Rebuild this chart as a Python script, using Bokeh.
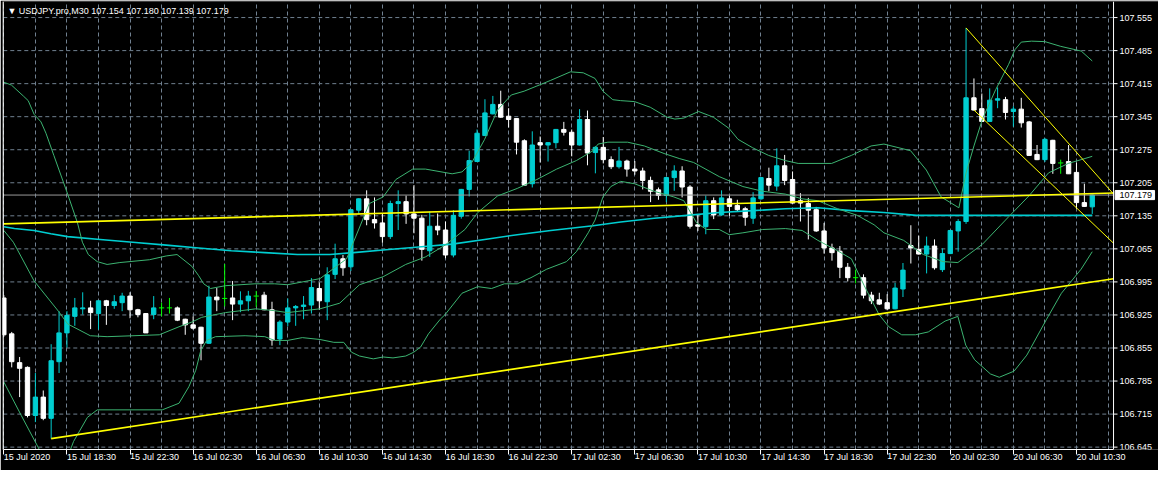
from bokeh.plotting import figure
from bokeh.models import Range1d, FixedTicker, Label, ColumnDataSource
from bokeh.core.properties import value
from bokeh.embed import file_html
from bokeh.resources import INLINE

# ---------------- data ----------------
symbol_title = "\u25bc USDJPY.pro,M30  107.154 107.180 107.139 107.179"

time_tick_bars = [0, 8, 16, 24, 32, 40, 48, 56, 64, 72, 80, 88, 96, 104, 112, 120, 128, 136]
time_tick_labels = ["15 Jul 2020", "15 Jul 18:30", "15 Jul 22:30", "16 Jul 02:30", "16 Jul 06:30",
                    "16 Jul 10:30", "16 Jul 14:30", "16 Jul 18:30", "16 Jul 22:30", "17 Jul 02:30",
                    "17 Jul 06:30", "17 Jul 10:30", "17 Jul 14:30", "17 Jul 18:30", "17 Jul 22:30",
                    "20 Jul 02:30", "20 Jul 06:30", "20 Jul 10:30"]
price_ticks = [106.645, 106.715, 106.785, 106.855, 106.925, 106.995, 107.065,
               107.135, 107.205, 107.275, 107.345, 107.415, 107.485, 107.555]
price_tick_labels = ["106.645", "106.715", "106.785", "106.855", "106.925", "106.995", "107.065",
                     "107.135", "107.205", "107.275", "107.345", "107.415", "107.485", "107.555"]
last_price_label = "107.179"

open_ = [106.961, 106.885, 106.824, 106.814, 106.712, 106.751, 106.706, 106.826, 106.887, 106.922,
         106.938, 106.940, 106.928, 106.955, 106.945, 106.951, 106.965, 106.936, 106.928, 106.926,
         106.940, 106.940, 106.940, 106.916, 106.904, 106.899, 106.865, 106.963, 106.960, 106.961,
         106.948, 106.955, 106.965, 106.967, 106.936, 106.874, 106.910, 106.940, 106.943, 106.946,
         106.981, 106.953, 107.011, 107.044, 107.027, 107.147, 107.171, 107.127, 107.120, 107.091,
         107.161, 107.165, 107.139, 107.130, 107.061, 107.113, 107.105, 107.052, 107.134, 107.191,
         107.250, 107.305, 107.351, 107.371, 107.346, 107.341, 107.294, 107.203, 107.290, 107.285,
         107.290, 107.318, 107.312, 107.285, 107.339, 107.269, 107.280, 107.254, 107.239, 107.251,
         107.234, 107.230, 107.210, 107.190, 107.178, 107.216, 107.230, 107.196, 107.116, 107.112,
         107.167, 107.137, 107.171, 107.157, 107.150, 107.130, 107.171, 107.214, 107.198, 107.241,
         107.212, 107.167, 107.161, 107.148, 107.103, 107.067, 107.060, 107.026, 107.004, 107.004,
         106.967, 106.957, 106.951, 106.938, 106.980, 107.072, 107.064, 107.054, 107.071, 107.021,
         107.055, 107.103, 107.123, 107.385, 107.362, 107.335, 107.380, 107.381, 107.356, 107.361,
         107.334, 107.265, 107.254, 107.295, 107.247, 107.250, 107.227, 107.163, 107.154]
high = [106.967, 106.889, 106.836, 106.816, 106.802, 106.765, 106.863, 106.933, 106.933, 106.961,
        106.973, 106.955, 106.956, 106.957, 106.967, 106.972, 106.973, 106.938, 106.929, 106.965,
        106.951, 106.961, 106.943, 106.917, 106.922, 106.900, 106.987, 106.982, 107.033, 106.997,
        106.975, 106.976, 106.976, 106.974, 106.953, 106.914, 106.960, 106.946, 106.965, 107.003,
        106.994, 107.026, 107.076, 107.052, 107.149, 107.172, 107.189, 107.174, 107.140, 107.167,
        107.189, 107.178, 107.200, 107.137, 107.144, 107.140, 107.123, 107.147, 107.192, 107.273,
        107.318, 107.382, 107.389, 107.400, 107.363, 107.342, 107.297, 107.314, 107.303, 107.291,
        107.319, 107.334, 107.318, 107.361, 107.358, 107.283, 107.302, 107.261, 107.281, 107.254,
        107.251, 107.237, 107.218, 107.195, 107.218, 107.242, 107.240, 107.200, 107.139, 107.178,
        107.174, 107.189, 107.178, 107.169, 107.154, 107.185, 107.217, 107.237, 107.278, 107.264,
        107.229, 107.183, 107.173, 107.154, 107.120, 107.076, 107.071, 107.035, 107.021, 107.011,
        106.974, 106.972, 106.969, 106.993, 107.035, 107.115, 107.093, 107.091, 107.085, 107.066,
        107.105, 107.128, 107.533, 107.426, 107.394, 107.405, 107.407, 107.387, 107.367, 107.385,
        107.336, 107.285, 107.300, 107.296, 107.254, 107.285, 107.248, 107.203, 107.180]
low = [106.879, 106.814, 106.751, 106.708, 106.698, 106.702, 106.663, 106.802, 106.856, 106.902,
       106.926, 106.895, 106.894, 106.904, 106.938, 106.933, 106.918, 106.920, 106.887, 106.916,
       106.922, 106.928, 106.912, 106.883, 106.894, 106.829, 106.864, 106.933, 106.943, 106.914,
       106.931, 106.933, 106.942, 106.935, 106.860, 106.861, 106.901, 106.902, 106.916, 106.928,
       106.936, 106.914, 107.001, 107.008, 107.018, 107.139, 107.115, 107.108, 107.078, 107.086,
       107.105, 107.118, 107.098, 107.040, 107.048, 107.094, 107.045, 107.047, 107.129, 107.176,
       107.249, 107.304, 107.350, 107.343, 107.322, 107.265, 107.199, 107.195, 107.248, 107.250,
       107.278, 107.305, 107.261, 107.284, 107.242, 107.225, 107.246, 107.234, 107.235, 107.218,
       107.222, 107.191, 107.164, 107.169, 107.164, 107.188, 107.174, 107.108, 107.103, 107.096,
       107.128, 107.135, 107.135, 107.144, 107.114, 107.118, 107.169, 107.187, 107.188, 107.200,
       107.161, 107.123, 107.085, 107.101, 107.055, 107.040, 107.003, 106.996, 106.992, 106.960,
       106.948, 106.946, 106.935, 106.937, 106.963, 107.034, 107.053, 107.013, 107.021, 107.016,
       107.054, 107.059, 107.118, 107.358, 107.334, 107.334, 107.363, 107.339, 107.324, 107.322,
       107.262, 107.253, 107.249, 107.224, 107.224, 107.224, 107.150, 107.154, 107.139]
close = [106.883, 106.826, 106.812, 106.712, 106.751, 106.706, 106.828, 106.887, 106.924, 106.940,
         106.940, 106.930, 106.955, 106.945, 106.953, 106.965, 106.936, 106.926, 106.887, 106.940,
         106.940, 106.940, 106.914, 106.904, 106.897, 106.865, 106.963, 106.957, 106.960, 106.948,
         106.955, 106.965, 106.965, 106.936, 106.872, 106.910, 106.940, 106.943, 106.946, 106.983,
         106.955, 107.010, 107.044, 107.025, 107.148, 107.171, 107.127, 107.120, 107.091, 107.161,
         107.165, 107.139, 107.130, 107.064, 107.113, 107.105, 107.052, 107.136, 107.191, 107.252,
         107.310, 107.353, 107.371, 107.344, 107.339, 107.291, 107.200, 107.285, 107.285, 107.290,
         107.318, 107.312, 107.285, 107.339, 107.268, 107.280, 107.254, 107.239, 107.251, 107.234,
         107.230, 107.210, 107.187, 107.178, 107.216, 107.230, 107.196, 107.113, 107.113, 107.167,
         107.137, 107.173, 107.155, 107.148, 107.132, 107.173, 107.216, 107.200, 107.241, 107.210,
         107.162, 107.162, 107.147, 107.103, 107.067, 107.057, 107.026, 107.004, 107.004, 106.967,
         106.955, 106.948, 106.938, 106.982, 107.020, 107.067, 107.054, 107.071, 107.025, 107.055,
         107.104, 107.123, 107.385, 107.359, 107.335, 107.380, 107.383, 107.354, 107.361, 107.332,
         107.263, 107.254, 107.297, 107.246, 107.247, 107.224, 107.163, 107.155, 107.179]

# Bollinger bands: bar position, price
bb_upper_x = [0, 0.96, 2.46, 3.09, 3.84, 4.71, 5.34, 6.34, 8.09, 9.34, 9.96, 10.71, 11.84, 13.09, 14.71,
              18.46, 20.59, 21.96, 23.84, 24.71, 25.34, 26.21, 28.09, 31.84, 34.34, 35.96, 40.09, 43.46,
              46.34, 48.09, 49.71, 51.84, 53.46, 56.84, 58.09, 59.34, 60.96, 62.59, 64.34, 65.96, 67.59,
              69.34, 71.84, 73.46, 74.96, 75.96, 77.21, 78.21, 79.96, 81.96, 84.09, 85.09, 86.21, 88.09,
              89.96, 91.96, 93.09, 94.96, 96.96, 99.09, 100.71, 104.96, 107.46, 109.96, 111.59, 114.96,
              116.96, 118.84, 121.09, 122, 123, 124.1, 125.75, 127.4, 128.2, 129, 130.3, 132, 134,
              136.6, 138]
bb_upper_y = [107.418, 107.412, 107.389, 107.379, 107.350, 107.334, 107.310, 107.263, 107.181, 107.120,
              107.079, 107.053, 107.038, 107.032, 107.036, 107.042, 107.050, 107.053, 107.028, 107.008,
              106.991, 106.981, 106.987, 106.991, 106.991, 106.989, 107.002, 107.044, 107.161, 107.175,
              107.212, 107.234, 107.234, 107.224, 107.228, 107.248, 107.297, 107.359, 107.391, 107.399,
              107.410, 107.422, 107.440, 107.438, 107.426, 107.399, 107.381, 107.379, 107.377, 107.365,
              107.344, 107.340, 107.342, 107.356, 107.344, 107.320, 107.297, 107.279, 107.263, 107.252,
              107.246, 107.246, 107.263, 107.283, 107.287, 107.273, 107.232, 107.175, 107.152, 107.226,
              107.283, 107.341, 107.402, 107.456, 107.487, 107.503, 107.505, 107.504, 107.494, 107.484,
              107.463]
bb_mid_x = [0, 1.21, 2.21, 3.84, 6.96, 8.09, 10.96, 13.09, 19.71, 22.21, 23.84, 25.09, 28.09, 31.96,
            34.34, 35.96, 40.09, 42.59, 45.09, 48.09, 50.96, 53.46, 55.96, 58.46, 60.09, 62.59, 65.09,
            67.59, 70.09, 72.59, 74.71, 75.34, 76.59, 79.09, 81.21, 83.71, 85.71, 87.46, 90.71, 93.71,
            96.21, 99.09, 101.21, 103.21, 105.71, 108.21, 110.34, 111.59, 114.09, 116.59, 119.09,
            120.96, 124.09, 127.46, 129.96, 132.46, 134.96, 136.59, 138]
bb_mid_y = [107.104, 107.079, 107.048, 106.997, 106.932, 106.906, 106.881, 106.879, 106.883, 106.900,
            106.910, 106.920, 106.930, 106.938, 106.934, 106.930, 106.938, 106.950, 106.989, 107.006,
            107.032, 107.048, 107.073, 107.106, 107.142, 107.177, 107.193, 107.212, 107.234, 107.252,
            107.273, 107.287, 107.291, 107.291, 107.283, 107.267, 107.256, 107.248, 107.218, 107.197,
            107.187, 107.181, 107.171, 107.167, 107.150, 107.136, 107.116, 107.099, 107.083, 107.053,
            107.038, 107.036, 107.075, 107.134, 107.177, 107.226, 107.246, 107.254, 107.261]
bb_lower_x = [0, 2.21, 4.34, 6.79, 7.46, 8.84, 10.59, 11.84, 20.09, 22.21, 23.46, 24.34, 24.96, 25.71,
              26.84, 30.59, 33.09, 34.34, 35.96, 37.84, 40.09, 41.84, 43.09, 44.09, 45.09, 46.84, 48.09,
              49.34, 50.96, 51.96, 52.84, 53.84, 55.34, 55.96, 58.09, 60.09, 61.84, 63.46, 65.09, 66.84,
              68.84, 71.34, 72.59, 74.09, 74.96, 75.96, 76.96, 78.21, 79.96, 82.46, 84.96, 86.21, 87.84,
              89.09, 90.71, 91.96, 93.71, 96.21, 99.09, 101.21, 103.21, 105.71, 107.46, 109.09, 110.96,
              112.21, 113.84, 115.59, 117.21, 119.34, 120.96, 121.96, 123.09, 125.09, 126.21, 128.09,
              129.71, 132.21, 134.09, 136.59, 138]
bb_lower_y = [106.783, 106.712, 106.645, 106.567, 106.596, 106.657, 106.708, 106.724, 106.724, 106.738,
              106.773, 106.808, 106.849, 106.871, 106.879, 106.881, 106.879, 106.871, 106.871, 106.877,
              106.873, 106.867, 106.867, 106.846, 106.838, 106.832, 106.836, 106.834, 106.838, 106.846,
              106.857, 106.885, 106.916, 106.926, 106.971, 106.985, 106.981, 106.991, 106.991, 107.004,
              107.022, 107.038, 107.059, 107.099, 107.126, 107.175, 107.197, 107.208, 107.203, 107.187,
              107.175, 107.167, 107.120, 107.106, 107.106, 107.095, 107.099, 107.106, 107.108, 107.104,
              107.083, 107.061, 107.044, 106.987, 106.926, 106.900, 106.883, 106.883, 106.889, 106.912,
              106.922, 106.861, 106.830, 106.800, 106.793, 106.806, 106.840, 106.916, 106.971, 107.022,
              107.059]
# long moving average (cyan)
ma_x = [0, 1.34, 3.84, 5.96, 8.09, 12.21, 16.34, 20.59, 24.71, 28.84, 33.09, 37.21, 41.34, 44.34, 48.46,
        52.59, 56.84, 60.96, 65.09, 69.34, 74.71, 78.21, 82.46, 86.59, 90.71, 94.96, 99.09, 103.21,
        107.46, 111.59, 115.71, 119.96, 128.21, 138]
ma_y = [107.112, 107.108, 107.104, 107.097, 107.091, 107.085, 107.079, 107.073, 107.067, 107.061,
        107.057, 107.053, 107.053, 107.057, 107.063, 107.069, 107.075, 107.085, 107.095, 107.104,
        107.114, 107.122, 107.130, 107.136, 107.142, 107.146, 107.150, 107.152, 107.146, 107.142,
        107.136, 107.136, 107.136, 107.136]

# drawn trend lines: two anchor points each (bar, price)
level_line_bars, level_line_prices = [0, 138], [107.118, 107.182]
support_bars, support_prices = [6, 138], [106.663, 106.995]
chan_top_bars, chan_top_prices = [122, 138], [107.533, 107.232]
chan_bot_bars, chan_bot_prices = [123, 138], [107.359, 107.120]

# ---------------- styling ----------------
BULL = "#00CED1"
BEAR = "#FFFFFF"
DOJI = "#00FF00"
BAND = "#3CB371"
MA_COL = "#00CED1"
YEL = "#FFFF00"
GRID = "#708090"
FONT = "Liberation Sans"

X0, X1 = -0.07, 140.7          # chart area (bars)
XL, XR = -0.17, 146.4          # whole drawing area incl. price scale
Y0, Y1 = 106.640, 107.589

p = figure(width=1158, height=470, x_range=Range1d(XL, XR), y_range=Range1d(Y0, Y1),
           y_axis_location=None, toolbar_location=None, output_backend="svg",
           background_fill_color="black", border_fill_color="black",
           min_border_left=2, min_border_top=1, min_border_right=0, min_border_bottom=21)
p.outline_line_color = None

# vertical grid
p.xgrid.ticker = FixedTicker(ticks=list(range(0, 141, 4)))
p.xgrid.grid_line_color = GRID
p.xgrid.grid_line_dash = "4 3"
p.ygrid.grid_line_color = None

# horizontal grid, restricted to chart area
p.segment(x0=[X0] * len(price_ticks), y0=price_ticks, x1=[X1] * len(price_ticks), y1=price_ticks,
          line_color=GRID, line_dash="4 3", line_width=1)

# time axis
p.xaxis.ticker = FixedTicker(ticks=time_tick_bars)
p.xaxis.bounds = (X0, X1)
p.xaxis.major_label_overrides = {b: lab for b, lab in zip(time_tick_bars, time_tick_labels)}
p.xaxis.major_label_orientation = -0.0001
p.xaxis.axis_line_color = "white"
p.xaxis.major_tick_line_color = "white"
p.xaxis.minor_tick_line_color = None
p.xaxis.major_tick_in = 0
p.xaxis.major_tick_out = 5
p.xaxis.major_label_standoff = 2
p.xaxis.major_label_text_color = "white"
p.xaxis.major_label_text_font = FONT
p.xaxis.major_label_text_font_size = "9px"

# candles
n = len(open_)
bars = list(range(n))
col, top, bot = [], [], []
for i in bars:
    o, c = open_[i], close[i]
    if c > o:
        col.append(BULL)
    elif c < o:
        col.append(BEAR)
    else:
        col.append(DOJI)
    top.append(max(o, c))
    bot.append(min(o, c))

src = ColumnDataSource(dict(x=bars, o=open_, h=high, l=low, c=close, top=top, bot=bot, col=col))
p.segment(x0="x", y0="l", x1="x", y1="h", color="col", line_width=1, source=src)

body_idx = [i for i in bars if col[i] != DOJI]
doji_idx = [i for i in bars if col[i] == DOJI]
bsrc = ColumnDataSource(dict(x=[bars[i] for i in body_idx], top=[top[i] for i in body_idx],
                             bot=[bot[i] for i in body_idx], col=[col[i] for i in body_idx]))
p.vbar(x="x", width=0.55, top="top", bottom="bot", fill_color="col", line_color="col",
       line_width=1, source=bsrc)
dsrc = ColumnDataSource(dict(x0=[bars[i] - 0.33 for i in doji_idx], x1=[bars[i] + 0.33 for i in doji_idx],
                             y=[open_[i] for i in doji_idx]))
p.segment(x0="x0", y0="y", x1="x1", y1="y", color=DOJI, line_width=1, source=dsrc)

# bid line
p.segment(x0=[X0], y0=[close[-1]], x1=[X1], y1=[close[-1]], line_color="#9a9a9a", line_width=1)

# indicators
p.line(ma_x, ma_y, line_color=MA_COL, line_width=1.6)
p.line(bb_upper_x, bb_upper_y, line_color=BAND, line_width=1)
p.line(bb_mid_x, bb_mid_y, line_color=BAND, line_width=1)
p.line(bb_lower_x, bb_lower_y, line_color=BAND, line_width=1)


def ray(bx, py, extend_left=False):
    slope = (py[1] - py[0]) / (bx[1] - bx[0])
    xs = [X0 if extend_left else bx[0], X1]
    ys = [py[0] + slope * (x - bx[0]) for x in xs]
    return xs, ys


for (bx, py, both, w) in [(level_line_bars, level_line_prices, True, 1.6),
                          (support_bars, support_prices, False, 1.6),
                          (chan_top_bars, chan_top_prices, False, 1.0),
                          (chan_bot_bars, chan_bot_prices, False, 1.0)]:
    xs, ys = ray(bx, py, both)
    p.line(xs, ys, line_color=YEL, line_width=w)

# chart frame (left and right edges)
p.segment(x0=[X0, X1], y0=[Y0, Y0], x1=[X0, X1], y1=[Y1, Y1], line_color="white", line_width=1)

# price scale: ticks and labels
p.segment(x0=[X1] * len(price_ticks), y0=price_ticks, x1=[X1 + 0.5] * len(price_ticks), y1=price_ticks,
          line_color="white", line_width=1)
p.text(x=[X1 + 0.75] * len(price_ticks), y=price_ticks, text=price_tick_labels,
       text_color="white", text_font=value(FONT), text_font_size=value("9px"),
       text_baseline="middle", text_align="left")

# current price box
p.quad(left=[X1 + 0.2], right=[X1 + 5.2], bottom=[close[-1] - 0.0097], top=[close[-1] + 0.0097],
       fill_color="white", line_color="white")
p.text(x=[X1 + 0.75], y=[close[-1]], text=[last_price_label], text_color="black",
       text_font=value(FONT), text_font_size=value("9px"), text_baseline="middle", text_align="left")

# header
p.add_layout(Label(x=0.45, y=Y1 - 0.010, text=symbol_title, text_color="white",
                   text_font=FONT, text_font_size="9px", text_baseline="top", text_align="left"))

open("out.html", "w").write(file_html(p, INLINE))
